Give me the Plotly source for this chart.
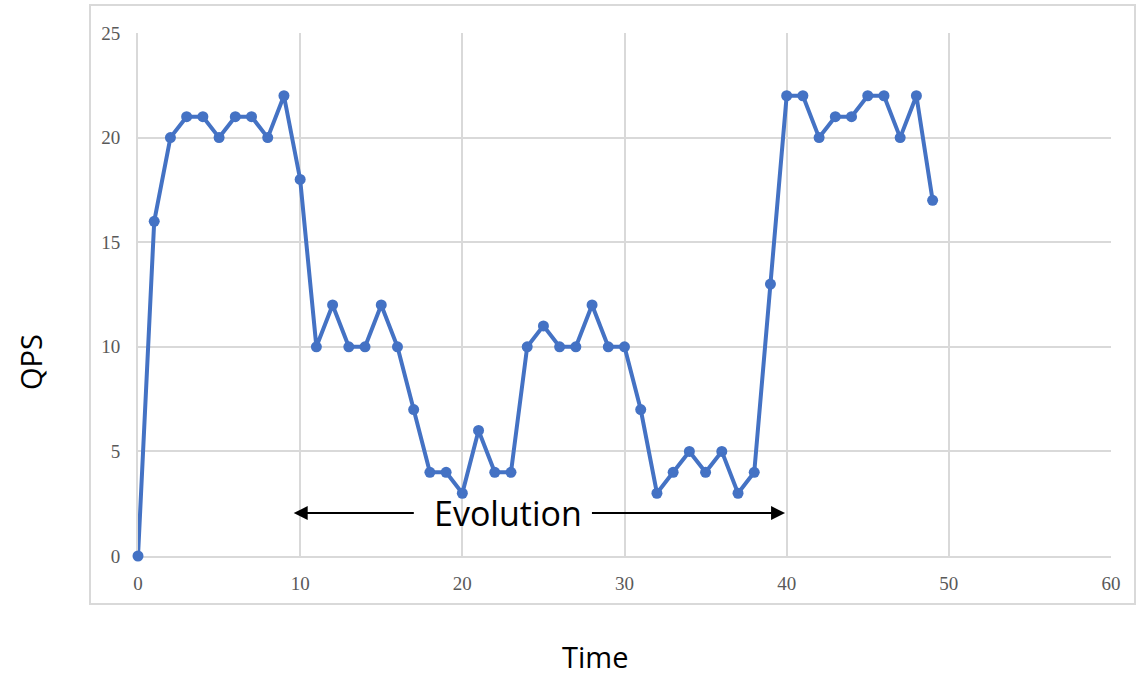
import plotly.graph_objects as go

time = list(range(50))
qps = [0, 16, 20, 21, 21, 20, 21, 21, 20, 22,
       18, 10, 12, 10, 10, 12, 10, 7, 4, 4,
       3, 6, 4, 4, 10, 11, 10, 10, 12, 10,
       10, 7, 3, 4, 5, 4, 5, 3, 4, 13,
       22, 22, 20, 21, 21, 22, 22, 20, 22, 17]
x_ticks = [0, 10, 20, 30, 40, 50, 60]
y_ticks = [0, 5, 10, 15, 20, 25]

W, H = 1137, 677
L, R, T, B = 138, 26, 33, 121
pw, ph = W - L - R, H - T - B

def px(xp):
    return (xp - L) / pw

def py(yp):
    return (H - B - yp) / ph

fig = go.Figure()
fig.add_trace(go.Scatter(
    x=time, y=qps, mode="lines+markers",
    line=dict(color="#4472C4", width=4),
    marker=dict(color="#4472C4", size=11),
    showlegend=False, cliponaxis=False,
))

grid = "#d9d9d9"
tickfont = dict(family="Liberation Serif", size=19, color="#595959")
fig.update_xaxes(range=[0, 60], tickvals=x_ticks, showgrid=True, gridcolor=grid, gridwidth=2,
                 zeroline=False, showline=True, linecolor=grid, linewidth=2, mirror=False,
                 tickfont=tickfont, ticks="", ticklabelstandoff=9, layer="below traces")
fig.update_yaxes(range=[0, 25], tickvals=y_ticks, showgrid=True, gridcolor=grid, gridwidth=2,
                 zeroline=False, showline=True, linecolor=grid, linewidth=2,
                 tickfont=tickfont, ticks="", ticklabelstandoff=12, layer="below traces")

# outer chart border
fig.add_shape(type="rect", xref="paper", yref="paper",
              x0=px(90), x1=px(1135), y0=py(604), y1=py(5),
              line=dict(color="#d9d9d9", width=2), fillcolor="rgba(0,0,0,0)", layer="below")

# arrows
arrow_y = 2.05
fig.add_annotation(x=9.6, y=arrow_y, ax=17.1, ay=arrow_y, xref="x", yref="y", axref="x", ayref="y",
                   text="", showarrow=True, arrowhead=2, arrowsize=1.4, arrowwidth=2, arrowcolor="black")
fig.add_annotation(x=39.9, y=arrow_y, ax=27.9, ay=arrow_y, xref="x", yref="y", axref="x", ayref="y",
                   text="", showarrow=True, arrowhead=2, arrowsize=1.4, arrowwidth=2, arrowcolor="black")
fig.add_annotation(x=22.8, y=arrow_y, xref="x", yref="y", text="Evolution", showarrow=False,
                   xanchor="center", yanchor="middle",
                   font=dict(family="Open Sans", size=34, color="black"))

# axis titles
fig.add_annotation(x=px(595), y=py(656), xref="paper", yref="paper", text="Time", showarrow=False,
                   xanchor="center", yanchor="middle",
                   font=dict(family="Open Sans", size=29, color="black"))
fig.add_annotation(x=px(30), y=py(362), xref="paper", yref="paper", text="QPS", showarrow=False,
                   xanchor="center", yanchor="middle",
                   textangle=-90, font=dict(family="Open Sans", size=29, color="black"))

fig.update_layout(width=W, height=H, margin=dict(l=L, r=R, t=T, b=B, autoexpand=False),
                  plot_bgcolor="white", paper_bgcolor="white")

fig.write_html("out.html")
